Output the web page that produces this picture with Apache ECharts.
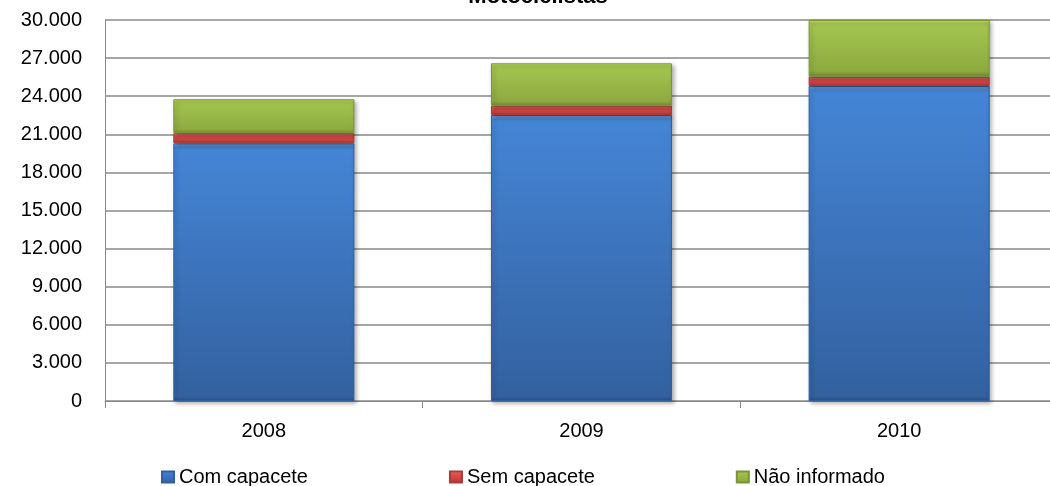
<!DOCTYPE html>
<html><head><meta charset="utf-8">
<script src="https://cdn.jsdelivr.net/npm/echarts@6/dist/echarts.min.js"></script>
<style>html,body{margin:0;padding:0;background:#fff;overflow:hidden;width:1050px;height:486px}#c{width:1062px;height:486px}</style>
</head><body><div id="c"></div>
<script>
const categories = ['2008', '2009', '2010'];
const comCapacete = [20290, 22520, 24800];
const semCapacete = [790, 730, 730];
const naoInformado = [2680, 3340, 4470];
const seriesNames = ['Com capacete', 'Sem capacete', 'Não informado'];
const titleText = 'Motociclistas';

const FONT = 'Arial, "Liberation Sans", sans-serif';
const shadow = {shadowColor: 'rgba(0,0,0,0.3)', shadowBlur: 4, shadowOffsetX: 2, shadowOffsetY: 2};
const blueStyle = Object.assign({
  color: new echarts.graphic.LinearGradient(0, 0, 0, 1, [
    {offset: 0, color: '#7DB7F2'}, {offset: 0.015, color: '#4585D6'}, {offset: 0.985, color: '#33619F'}, {offset: 1, color: '#2A4F86'}
  ]),
  borderColor: '#2F5F9F', borderWidth: 1
}, shadow);
const redStyle = Object.assign({
  color: new echarts.graphic.LinearGradient(0, 0, 0, 1, [
    {offset: 0, color: '#F7A0A0'}, {offset: 0.25, color: '#E0504B'}, {offset: 0.75, color: '#C8403C'}, {offset: 1, color: '#8E2F2C'}
  ]),
  borderColor: '#A83C38', borderWidth: 1
}, shadow);
const greenStyle = Object.assign({
  color: new echarts.graphic.LinearGradient(0, 0, 0, 1, [
    {offset: 0, color: '#D8F27E'}, {offset: 0.05, color: '#A4C650'}, {offset: 0.9, color: '#8DAA40'}, {offset: 1, color: '#6E8A2F'}
  ]),
  borderColor: '#7A9436', borderWidth: 1
}, shadow);

const chart = echarts.init(document.getElementById('c'), null, {renderer: 'canvas'});
chart.setOption({
  animation: false,
  backgroundColor: '#fff',
  title: {
    text: titleText, left: 533, top: -19, textAlign: 'center',
    textStyle: {fontFamily: FONT, fontSize: 22, fontWeight: 'bold', color: '#000'}
  },
  legend: {
    data: seriesNames, top: 467, left: 161, padding: 0, itemWidth: 12, itemHeight: 11, itemGap: 141,
    icon: 'rect',
    textStyle: {fontFamily: FONT, fontSize: 20, color: '#000'}
  },
  grid: {left: 105, width: 953, top: 20, height: 381, containLabel: false},
  xAxis: {
    type: 'category', data: categories,
    axisLine: {lineStyle: {color: '#888', width: 1}},
    axisTick: {show: true, length: 7, lineStyle: {color: '#888'}},
    axisLabel: {fontFamily: FONT, fontSize: 20, color: '#000', margin: 20}
  },
  yAxis: {
    type: 'value', min: 0, max: 30000, interval: 3000,
    axisLine: {show: true, lineStyle: {color: '#888'}},
    axisTick: {show: false},
    splitLine: {lineStyle: {color: '#888', width: 1.5}},
    axisLabel: {
      fontFamily: FONT, fontSize: 20, color: '#000', margin: 23,
      formatter: v => v.toString().replace(/\B(?=(\d{3})+(?!\d))/g, '.')
    }
  },
  series: [
    {name: seriesNames[0], type: 'bar', stack: 's', data: comCapacete, barWidth: '57%', itemStyle: blueStyle},
    {name: seriesNames[1], type: 'bar', stack: 's', data: semCapacete, itemStyle: redStyle},
    {name: seriesNames[2], type: 'bar', stack: 's', data: naoInformado, itemStyle: greenStyle}
  ]
});
</script></body></html>
